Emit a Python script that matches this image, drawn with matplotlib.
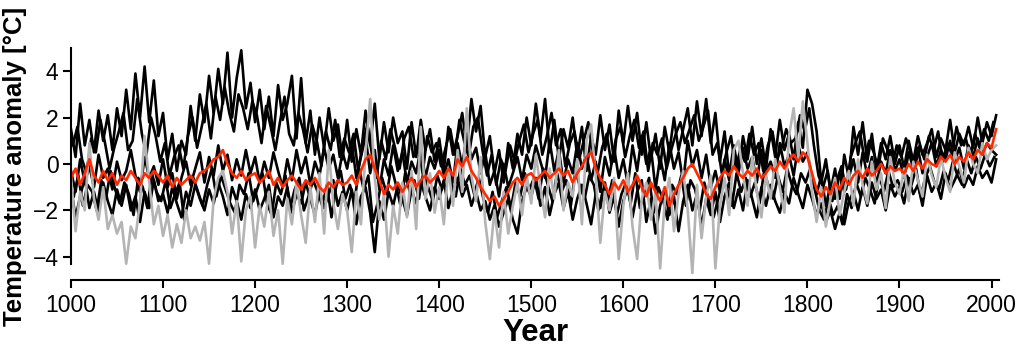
import numpy as np
import matplotlib
matplotlib.use("Agg")
import matplotlib.pyplot as plt

plt.rcParams['font.family'] = ['Liberation Sans', 'DejaVu Sans']

# years every 5 years, 1000 .. 2005
years = list(range(1000, 2010, 5))
# two more black reconstructions sampled on shifted years
years_b4 = list(range(1002, 2003, 5))
years_b5 = list(range(1003, 2004, 5))

# warm black reconstruction
black_high = [
    1.5, 0.3, 2.6, 0.8, 1.9, 0.5, 2.3, 1.0, 2.1, 0.6, 2.4, 1.2, 3.2, 1.5, 3.9, 2.0, 4.2, 1.8, 3.6, 1.2,
    2.2, 0.2, 1.3, -0.3, 1.0, 0.4, 2.5, 1.0, 3.0, 1.8, 3.8, 2.2, 4.1, 2.6, 4.8, 2.0, 3.7, 4.9, 2.4, 3.5,
    1.8, 3.2, 1.5, 2.9, 1.2, 3.4, 1.9, 2.6, 3.8, 1.1, 3.7, 0.9, 2.3, 0.4, 2.0, 0.7, 2.4, 1.0, 1.7, 0.2,
    1.9, 0.1, 1.5, 0.4, 2.3, 0.8, 2.6, 0.2, 1.8, 0.5, 2.0, 0.9, 1.4, -0.2, 1.8, 0.3, 1.9, 0.6, 1.5, 0.1,
    1.1, -0.3, 1.6, 0.4, 1.2, 2.2, 0.7, 2.8, 1.4, 2.5, 0.3, 1.2, -0.4, 0.6, -0.8, 0.9, -0.2, 1.3, 0.4, 2.0,
    0.8, 2.6, 1.1, 2.8, 0.5, 1.9, 0.2, 1.5, 0.7, 2.0, 0.3, 1.6, -0.3, 1.2, 0.4, 2.1, 0.6, 1.7, 0.1, 2.3,
    0.9, 2.5, 1.0, 2.2, 0.4, 1.8, 0.2, 1.3, -0.2, 1.6, 0.5, 2.0, 0.6, 1.5, 2.4, 0.8, 2.7, 1.2, 2.8, 0.9,
    2.2, 0.1, 1.4, -0.5, 0.8, -0.3, 1.2, 0.2, 1.6, 0.0, 1.1, -0.2, 1.5, 0.3, 1.9, 0.6, 1.3, 0.2, 1.8, 0.7,
    3.2, 2.6, 1.4, -0.8, 0.2, -1.2, -0.2, -1.5, 0.4, -0.6, 1.6, 0.4, 1.8, 0.1, 1.3, -0.3, 0.9, 0.2, 1.2, 0.0,
    0.8, -0.2, 1.0, 0.1, 1.2, 0.4, 0.9, 1.5, 0.3, 1.1, 0.6, 1.9, 0.5, 1.3, 0.8, 1.6, 0.7, 2.0, 0.9, 1.8,
    1.2, 2.1,
]

black_mid = [
    -0.3, -1.2, 0.2, -0.8, -0.1, -1.0, 0.4, -0.6, -0.2, -1.1, 0.1, -0.7, -0.3, 0.6, -0.5, -1.2, 0.3, -0.6, -0.1, -0.9,
    0.2, -1.0, -0.4, -1.5, -0.6, 0.1, -0.9, -0.2, 0.5, -0.8, 0.3, -0.5, 0.8, -0.3, 0.4, -0.7, 0.2, -0.5, 0.6, -0.4,
    0.3, -0.8, 0.1, -0.6, 0.5, -0.3, -1.0, 0.2, -0.7, 0.6, -0.4, 0.3, -0.9, 0.1, -0.5, 0.7, -0.2, 0.4, -0.6, 0.5,
    -0.2, 0.9, -0.6, 0.3, 1.2, -0.4, 0.6, -1.1, 0.2, -0.5, 0.8, -0.3, 0.5, -0.8, 0.1, -0.4, 0.7, -0.6, 0.3, -0.2,
    0.6, -0.5, 0.2, -0.8, 0.9, -0.1, 1.3, 0.2, 0.7, -0.4, 0.5, -0.9, -0.3, -1.4, 0.0, -1.0, -0.4, 0.3, -0.7, 0.4,
    -0.2, 0.8, 0.1, -0.6, 1.0, -0.3, 0.6, -0.8, 0.2, -0.4, 0.9, -0.2, 0.4, -0.7, 0.1, -1.2, 0.3, -0.5, 0.7, -0.6,
    0.2, -0.9, 0.8, -0.3, 1.2, 0.0, 0.7, -1.1, 0.3, -0.7, 0.9, -0.2, 0.5, -0.8, 1.0, -0.1, 0.6, -0.6, 0.4, -1.0,
    -0.3, -1.2, 0.2, -0.7, 0.5, -0.4, 0.7, -0.2, 0.3, -0.8, 0.6, -0.3, 0.1, -0.6, 0.9, -0.1, 0.4, -0.5, 0.8, 0.1,
    0.5, -0.6, -1.3, -0.5, -1.8, -0.9, -1.5, -0.4, -1.2, -0.6, 0.2, -0.8, 0.5, -0.5, 0.3, -0.9, 0.1, -0.4, 0.6, -0.3,
    0.2, -0.6, 0.5, -0.2, 0.7, -0.4, 0.3, 0.9, -0.1, 0.6, 0.2, 1.0, 0.1, 0.7, -0.2, 0.8, 0.3, 1.1, 0.4, 0.9,
    0.6, 0.4,
]

black_low = [
    -1.0, -2.3, -1.4, -0.6, -1.9, -1.2, -2.1, -0.8, -1.6, -2.2, -1.1, -1.8, -0.9, -2.0, -1.4, -2.5, -1.2, -1.9, -0.7, -1.6,
    -1.3, -2.1, -1.0, -1.7, -2.3, -1.2, -1.8, -0.9, -1.5, -2.0, -1.1, -1.7, -0.8, -1.4, -2.2, -1.0, -1.6, -2.4, -1.3, -1.9,
    -1.1, -2.0, -1.5, -0.9, -2.3, -1.4, -1.8, -1.0, -2.1, -1.3, -1.7, -0.8, -1.5, -2.2, -1.1, -1.9, -1.3, -0.7, -1.8, -1.2,
    -2.0, -1.1, -2.6, -1.4, -1.0, -2.1, -3.8, -1.6, -2.4, -1.2, -1.8, -0.9, -1.5, -2.2, -1.1, -1.7, -0.8, -1.4, -2.0, -1.0,
    -1.5, -0.7, -1.9, -1.1, -0.6, -1.4, -0.9, -1.8, -1.2, -2.0, -1.6, -2.4, -1.8, -2.7, -2.1, -1.5, -2.4, -3.0, -1.6, -1.0,
    -1.4, -0.6, -1.8, -1.0, -2.2, -1.3, -0.8, -1.9, -1.2, -2.4, -1.5, -0.9, -1.7, -2.6, -1.3, -1.9, -0.8, -2.1, -1.4, -2.7,
    -1.6, -1.0, -2.3, -1.2, -0.7, -2.5, -1.5, -3.0, -1.8, -1.1, -2.2, -1.4, -2.9, -1.6, -0.9, -2.0, -1.3, -2.7, -1.5, -2.2,
    -1.2, -2.5, -1.4, -0.8, -1.9, -1.1, -2.0, -0.7, -1.5, -2.3, -1.0, -1.8, -0.9, -1.6, -2.1, -1.2, -1.7, -0.6, -1.3, -1.9,
    -0.9, -1.5, -2.2, -1.7, -2.5, -2.0, -2.8, -2.1, -2.6, -1.6, -1.2, -2.0, -1.0, -1.8, -0.8, -1.5, -1.1, -2.0, -0.9, -1.4,
    -1.0, -1.7, -0.6, -1.3, -0.9, -1.8, -0.5, -1.2, -0.8, -1.5, -0.4, -1.1, -0.7, -0.2, -1.0, -0.5, -0.9, -0.1, -0.6, -0.3,
    -0.8, 0.2,
]

black_b4 = [
    0.8, 1.6, 0.2, -0.4, 1.1, 0.5, 1.9, 0.9, -0.2, 0.7, 1.4, 2.2, 0.6, 1.0, 2.8, 1.3, 0.4, 2.0, 1.2, 0.1,
    0.9, -0.5, 0.3, 0.8, -0.2, 1.2, 2.0, 0.7, 1.6, 2.6, 1.1, 2.9, 1.9, 3.3, 2.2, 1.4, 3.0, 2.4, 1.5, 2.7,
    2.1, 0.9, 2.5, 1.6, 0.6, 1.8, 2.9, 1.3, 0.8, 2.2, 1.5, 0.5, 1.7, 1.0, -0.1, 1.4, 0.6, 1.9, 0.3, 1.1,
    0.5, 1.3, -0.3, 0.9, 1.7, 0.4, -0.6, 1.0, 0.2, 1.5, 0.7, -0.2, 1.1, 1.6, 0.3, 0.8, -0.4, 1.2, 0.5, 0.9,
    -0.1, 0.7, 1.5, 0.4, 1.9, 1.0, 0.3, 1.6, 2.0, 0.6, -0.5, 0.4, -0.9, 0.2, -0.3, 0.8, 0.1, 1.0, 1.7, 0.5,
    1.3, 1.9, 0.4, 1.2, 2.2, 0.8, 1.5, -0.1, 0.9, 1.4, 0.2, 1.0, 1.8, 0.5, -0.4, 0.7, 1.3, 0.0, 1.1, 1.6,
    0.3, 1.2, 1.9, 0.7, 1.4, -0.3, 0.9, 0.4, 1.1, -0.2, 0.6, 1.3, 1.8, 0.9, 1.5, 2.1, 1.0, 1.6, 2.3, 0.4,
    0.9, -0.4, 0.5, 1.2, -0.2, 0.6, 0.1, 1.3, 0.4, 0.9, -0.3, 0.8, 1.4, 0.2, 0.7, 1.5, 0.9, 1.1, 2.1, 1.4,
    2.4, 0.8, -0.5, -1.0, -0.3, -1.6, -0.7, -0.1, -1.1, 0.3, 0.9, 1.4, 0.2, 1.0, 0.5, -0.2, 1.1, 0.6, -0.1, 0.8,
    0.3, 1.1, 0.5, -0.1, 0.8, 0.2, 1.2, 0.6, 1.4, 0.1, 0.9, 0.4, 1.6, 0.8, 1.1, 0.3, 1.3, 0.7, 1.5, 1.0,
    1.8,
]

black_b5 = [
    -1.4, -0.5, -1.8, -0.9, -1.2, -2.0, -0.7, -1.5, -0.3, -1.1, -1.7, -0.8, -1.3, -2.2, -0.6, -1.0, -1.9, -0.4, -1.2, -1.6,
    -0.7, -1.9, -1.3, -0.8, -2.4, -1.5, -0.6, -1.2, -1.8, -0.9, -0.2, -1.4, -0.5, -1.1, -1.7, -2.1, -0.9, -1.3, -0.4, -1.6,
    -1.0, -0.4, -1.7, -2.2, -0.8, -1.3, -0.5, -1.9, -1.1, -0.6, -2.0, -1.4, -0.7, -1.2, -1.8, -0.9, -2.3, -1.0, -0.3, -1.5,
    -0.9, -1.6, -0.2, -1.1, -0.5, -2.5, -1.7, -0.6, -1.3, -0.1, -0.9, -1.8, -0.4, -1.2, -0.7, -1.5, -0.3, -1.0, -1.6, -0.5,
    -1.1, -0.3, -0.8, -1.4, -0.2, -0.9, -0.5, -1.3, -0.6, -1.5, -2.1, -1.2, -2.3, -1.6, -1.0, -1.9, -0.8, -1.4, -0.4, -1.1,
    -0.6, -1.5, -0.2, -0.9, -1.6, -0.4, -1.2, -0.7, -1.8, -0.3, -1.0, -1.5, -0.5, -0.9, -2.0, -1.1, -1.6, -0.7, -2.2, -1.3,
    -0.8, -1.7, -0.4, -1.9, -1.2, -0.6, -2.1, -1.0, -1.5, -2.4, -0.9, -1.3, -0.5, -1.8, -0.7, -1.1, -2.0, -0.8, -1.6, -2.3,
    -1.5, -0.7, -1.1, -1.8, -0.4, -1.2, -0.6, -1.4, -0.8, -1.7, -0.3, -1.0, -1.5, -0.5, -1.2, -0.2, -0.9, -1.3, -0.4, -0.8,
    -0.2, -1.1, -2.0, -2.4, -1.5, -2.2, -1.8, -2.6, -1.3, -1.9, -0.8, -1.4, -0.6, -1.1, -1.7, -0.5, -1.2, -0.3, -1.0, -0.7,
    -1.2, -0.5, -0.9, -0.2, -1.4, -0.6, -0.1, -0.8, -1.1, -0.3, -0.7, 0.1, -0.5, -0.9, 0.2, -0.4, 0.3, -0.2, 0.4, -0.1,
    0.3,
]

grey_series = [
    -0.5, -2.9, -1.2, -2.0, 0.9, -1.5, -2.4, -1.0, -2.8, -2.2, -3.0, -2.5, -4.3, -2.7, -3.2, -1.6, 1.2, -0.8, -2.6, -1.8,
    -3.1, -2.2, -3.6, -2.6, -3.4, -2.0, -3.2, -2.7, -3.3, -2.5, -4.3, -1.5, -0.6, -0.3, -1.2, -3.0, -1.6, -4.2, -2.0, -1.4,
    -3.6, -1.8, -2.7, -1.2, -3.1, -2.0, -4.3, -1.5, -2.6, -0.8, -2.2, -3.4, -1.0, -2.5, -0.4, -3.0, 0.6, -1.7, -2.8, -1.3,
    -2.0, -3.8, -1.2, -2.6, 0.5, 2.8, -0.6, -2.4, -1.3, -4.0, -1.8, -3.0, -0.8, -2.3, -0.3, -2.8, 1.6, -1.5, -0.4, -2.1,
    -1.0, -2.6, -0.2, -1.8, 0.6, -1.2, 2.4, -0.5, -1.6, 0.3, -2.5, -4.1, -2.0, -3.6, -1.2, -3.0, -1.8, -0.8, -2.2, -0.5,
    -1.7, 0.4, -1.0, -2.3, -0.2, -1.5, 0.6, -2.0, -0.8, -1.4, 0.2, -2.6, 1.0, 1.7, -0.5, -3.4, -1.2, -2.0, -0.6, -4.1,
    -1.8, -0.4, -2.7, -4.1, -1.5, -0.8, -2.4, -1.2, -4.5, -1.6, -0.6, -2.9, -1.3, -0.3, -2.0, -4.7, -0.9, -3.2, -1.4, -0.5,
    -4.5, -1.8, -0.6, -2.2, 0.6, 1.0, -0.4, -1.8, 0.3, -1.2, -2.3, -0.5, -1.5, 0.2, -1.0, -2.1, 1.2, 2.4, 0.3, 2.7,
    0.9, -1.2, -2.5, -1.0, -2.7, -1.5, -0.6, -2.2, -1.2, -0.3, -1.8, 0.2, -0.9, -1.7, 0.1, -1.1, -0.4, -1.9, 0.3, -0.8,
    -1.3, -0.2, -1.6, 0.1, -0.7, -1.4, 0.4, -0.5, -1.0, 0.3, -0.6, -1.2, 0.5, -0.1, -0.8, 0.7, 0.0, -0.4, 0.9, 0.2,
    0.6, 0.8,
]

red_series = [
    -0.6, -0.2, -0.9, -0.4, 0.2, -0.5, -0.8, -0.3, -0.7, -0.4, -0.9, -0.5, -0.7, -0.3, -0.6, -0.9, -0.4, -0.6, -0.3, -0.5,
    -0.8, -0.5, -1.0, -0.6, -0.9, -0.7, -0.5, -0.8, -0.4, -0.3, -0.1, 0.2, 0.3, 0.6, 0.0, -0.4, -0.6, -0.3, -0.7, -0.5,
    -0.4, -0.8, -0.6, -0.3, -0.9, -0.6, -1.0, -0.7, -0.5, -0.8, -1.1, -0.7, -0.9, -0.6, -1.0, -1.2, -0.8, -1.0, -0.7, -0.9,
    -0.8, -0.5, -0.9, -0.3, 0.2, 0.4, -0.2, -0.7, -1.3, -0.9, -1.1, -0.8, -1.2, -0.9, -0.6, -1.0, -0.7, -0.5, -0.8, -0.6,
    -0.3, -0.6, -0.2, -0.5, 0.2, -0.1, 0.3, -0.3, -0.6, -1.0, -1.3, -1.6, -1.4, -1.8, -1.5, -1.2, -0.8, -0.6, -0.9, -0.5,
    -0.4, -0.7, -0.5, -0.3, -0.6, -0.4, -0.2, -0.5, -0.3, -0.8, -0.4, -0.1, 0.3, 0.5, -0.2, -0.6, -0.9, -1.3, -0.8, -1.1,
    -0.7, -1.2, -0.9, -0.5, -1.0, -1.4, -0.8, -1.2, -1.6, -1.0, -1.8, -1.3, -0.9, -0.6, -0.2, 0.0, -0.4, -0.8, -1.3, -1.5,
    -1.0, -0.6, -0.3, -0.5, -0.1, -0.4, -0.6, -0.3, -0.5, -0.2, -0.6, -0.4, -0.1, -0.3, 0.1, -0.2, 0.2, 0.4, 0.1, 0.5,
    0.3, -0.4, -1.1, -1.4, -1.0, -1.3, -0.8, -1.1, -0.6, -0.9, -0.5, -0.3, -0.6, -0.2, -0.5, -0.3, 0.0, -0.4, -0.1, -0.3,
    -0.2, -0.4, 0.0, -0.3, 0.1, -0.2, 0.2, 0.0, -0.1, 0.3, 0.1, 0.4, 0.0, 0.3, 0.1, 0.5, 0.2, 0.6, 0.4, 0.9,
    0.7, 1.5,
]

xtick_years = list(range(1000, 2001, 100))
ytick_vals = [-4, -2, 0, 2, 4]

fig = plt.figure(figsize=(10.24, 3.58), dpi=100)
ax = fig.add_axes([0.0693, 0.218, 0.908, 0.648])

lw = 1.9
for s in (black_high, black_mid, black_low):
    ax.plot(years, s, color='black', lw=lw)
ax.plot(years_b4, black_b4, color='black', lw=lw)
ax.plot(years_b5, black_b5, color='black', lw=lw)
ax.plot(years, grey_series, color='#b4b4b4', lw=lw)
ax.plot(years, red_series, color='#ff2a00', lw=lw)

ax.set_xlim(1000, 2010)
ax.set_ylim(-5, 5)
ax.set_xticks(xtick_years)
ax.set_yticks(ytick_vals)

for side in ('top', 'right'):
    ax.spines[side].set_visible(False)
ax.spines['left'].set_bounds(-4.3, 5)
ax.spines['bottom'].set_bounds(1000, 2008)
ax.spines['left'].set_linewidth(1.5)
ax.spines['bottom'].set_linewidth(1.5)

ax.tick_params(axis='both', direction='out', length=6, width=1.5, labelsize=16.5)
ax.tick_params(axis='x', pad=4)
ax.tick_params(axis='y', pad=3)

ax.set_xlabel('Year', fontsize=22.5, fontweight='bold', labelpad=1)
ax.set_ylabel('Temperature anomaly [°C]', fontsize=18.5, fontweight='bold')
ax.yaxis.set_label_coords(-0.047, 0.489)

fig.savefig('out.png', dpi=100)
